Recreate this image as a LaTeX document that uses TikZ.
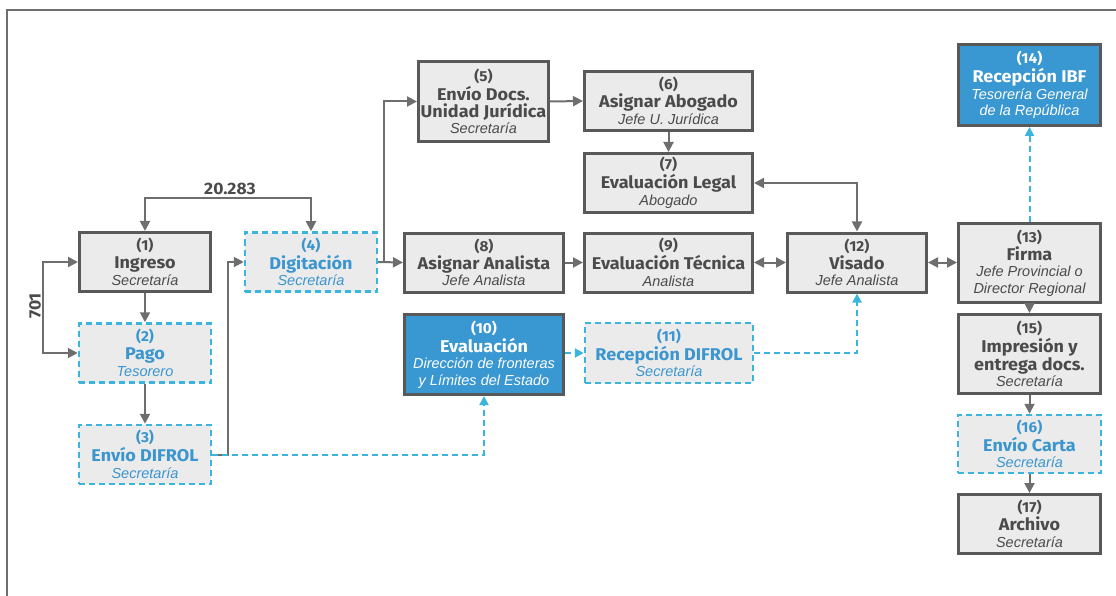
\documentclass[tikz,border=0pt]{standalone}
\usepackage{fontspec}
\setmainfont{Liberation Sans}
\newfontfamily\fira[FakeStretch=1.06]{Fira Sans}
\usetikzlibrary{arrows.meta}
\definecolor{lnG}{HTML}{6E6E6E}
\definecolor{bdG}{HTML}{595959}
\definecolor{fillG}{HTML}{EBEBEB}
\definecolor{txG}{HTML}{4B4B4B}
\definecolor{rolG}{HTML}{555555}
\definecolor{blueT}{HTML}{3B95CF}
\definecolor{cyanD}{HTML}{3BB4DE}
\definecolor{blueF}{HTML}{3997D1}
\newcommand\Num[1]{{\fira\bfseries\fontsize{14.5}{16.5}\selectfont(#1)}}
\newcommand\Ttl[1]{{\fira\bfseries\fontsize{17}{16.5}\selectfont #1}}
\newcommand\Rol[1]{{\itshape\fontsize{14.5}{16.5}\selectfont #1}}
\tikzset{
  basebox/.style={rectangle, inner sep=0pt, align=center, font=\fontsize{14}{16.5}\selectfont},
  gbox/.style={basebox, draw=bdG, line width=3pt, fill=fillG, text=txG},
  dbox/.style={basebox, draw=cyanD, line width=2.5pt, dash pattern=on 6pt off 4pt, fill=fillG, text=blueT},
  bbox/.style={basebox, draw=bdG, line width=3pt, fill=blueF, text=white},
  garr/.style={draw=lnG, line width=2pt, -{Triangle[length=10pt,width=10pt]}},
  gdbl/.style={draw=lnG, line width=2pt, {Triangle[length=10pt,width=10pt]}-{Triangle[length=10pt,width=10pt]}},
  barr/.style={draw=cyanD, line width=2pt, dash pattern=on 6pt off 4pt, -{Triangle[length=9pt,width=9pt]}},
  lbl/.style={text=txG, font=\fira\bfseries\fontsize{16.5}{18}\selectfont, inner sep=0pt},
}
\begin{document}
\begin{tikzpicture}[x=1pt,y=-1pt]
\useasboundingbox (0,0) rectangle (1116,596);
% frame
\draw[lnG, line width=2pt] (7,596) -- (7,10) -- (1116,10);
% nodes
\node[gbox, minimum width=131pt, minimum height=59pt] (n1) at (145,262) {\Num{1}\\[1.5pt]\Ttl{Ingreso}\\\Rol{Secretaría}};
\node[dbox, minimum width=132pt, minimum height=59pt] (n2) at (145,353) {\Num{2}\\[1.5pt]\Ttl{Pago}\\\Rol{Tesorero}};
\node[dbox, minimum width=132pt, minimum height=59pt] (n3) at (145,454.5) {\Num{3}\\[1.5pt]\Ttl{Envío DIFROL}\\\Rol{Secretaría}};
\node[dbox, minimum width=132pt, minimum height=59pt] (n4) at (311,262) {\Num{4}\\[1.5pt]\Ttl{Digitación}\\\Rol{Secretaría}};
\node[gbox, minimum width=130pt, minimum height=80pt] (n5) at (483.5,101.5) {\Num{5}\\[1.5pt]\Ttl{Envío Docs.}\\\Ttl{Unidad Jurídica}\\\Rol{Secretaría}};
\node[gbox, minimum width=168pt, minimum height=59pt] (n6) at (668.5,101) {\Num{6}\\[1.5pt]\Ttl{Asignar Abogado}\\\Rol{Jefe U. Jurídica}};
\node[gbox, minimum width=168pt, minimum height=59pt] (n7) at (668.5,183) {\Num{7}\\[1.5pt]\Ttl{Evaluación Legal}\\\Rol{Abogado}};
\node[gbox, minimum width=159pt, minimum height=59pt] (n8) at (484,262.5) {\Num{8}\\[1.5pt]\Ttl{Asignar Analista}\\\Rol{Jefe Analista}};
\node[gbox, minimum width=168pt, minimum height=59pt] (n9) at (668.5,262.5) {\Num{9}\\[1.5pt]\Ttl{Evaluación Técnica}\\\Rol{Analista}};
\node[bbox, minimum width=159pt, minimum height=80pt] (n10) at (484,354.5) {\Num{10}\\[1.5pt]\Ttl{Evaluación}\\\Rol{Dirección de fronteras}\\\Rol{y Límites del Estado}};
\node[dbox, minimum width=168pt, minimum height=60pt] (n11) at (669,353) {\Num{11}\\[1.5pt]\Ttl{Recepción DIFROL}\\\Rol{Secretaría}};
\node[gbox, minimum width=139pt, minimum height=59pt] (n12) at (857,262.5) {\Num{12}\\[1.5pt]\Ttl{Visado}\\\Rol{Jefe Analista}};
\node[gbox, minimum width=142pt, minimum height=79pt] (n13) at (1029.5,263) {\Num{13}\\[1.5pt]\Ttl{Firma}\\\Rol{Jefe Provincial o}\\\Rol{Director Regional}};
\node[bbox, minimum width=142pt, minimum height=81pt] (n14) at (1029.5,85) {\Num{14}\\[1.5pt]\Ttl{Recepción IBF}\\\Rol{Tesorería General}\\\Rol{de la República}};
\node[gbox, minimum width=142pt, minimum height=79pt] (n15) at (1029.5,354) {\Num{15}\\[1.5pt]\Ttl{Impresión y}\\\Ttl{entrega docs.}\\\Rol{Secretaría}};
\node[dbox, minimum width=143pt, minimum height=58pt] (n16) at (1029.5,444) {\Num{16}\\[1.5pt]\Ttl{Envío Carta}\\\Rol{Secretaría}};
\node[gbox, minimum width=142pt, minimum height=59pt] (n17) at (1029.5,524) {\Num{17}\\[1.5pt]\Ttl{Archivo}\\\Rol{Secretaría}};
% labels
\node[lbl] (l20) at (230,189) {20.283};
\node[lbl, rotate=90] (l701) at (35,306) {701};
% gray connectors
\draw[gdbl] (n1.north) -- (n1.north |- 0,198) -- (n4.north |- 0,198) -- (n4.north);
\draw[gdbl] (n1.west) -| (43,300) |- (n2.west);
\draw[garr] (n1) -- (n2);
\draw[garr] (n2) -- (n3);
\draw[garr] (n3.east) -| (228,300) |- (n4.west);
\draw[garr] (n4.east) -- (n8.west);
\draw[garr] (n4.east) -| (384,200) |- (n5.west);
\draw[garr] (n5.east) -- (n6.west);
\draw[garr] (n6) -- (n7);
\draw[garr] (n8) -- (n9);
\draw[gdbl] (n9) -- (n12);
\draw[gdbl] (n12) -- (n13.west |- n12.east);
\draw[gdbl] (n12.north) |- (n7.east);
\draw[garr] (n13) -- (n15);
\draw[garr] (n15) -- (n16);
\draw[garr] (n16) -- (n17);
% blue dashed connectors
\draw[barr] (n3.east) -| (n10.south);
\draw[barr] (n10.east |- n11.west) -- (n11.west);
\draw[barr] (n11.east) -| (n12.south);
\draw[barr] (n13) -- (n14);
\end{tikzpicture}
\end{document}
